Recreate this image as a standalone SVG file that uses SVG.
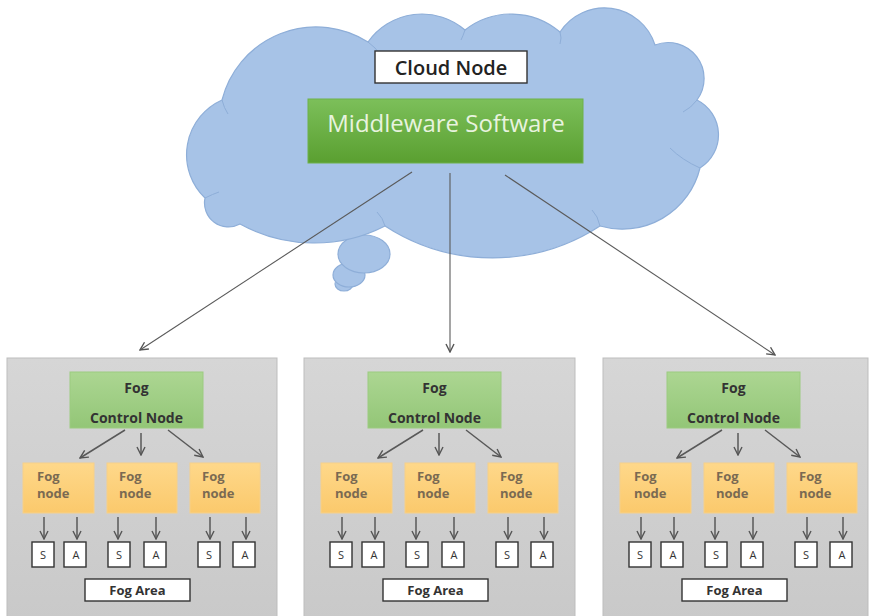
<svg xmlns="http://www.w3.org/2000/svg" width="870" height="616" viewBox="0 0 870 616">
<defs>
<linearGradient id="gPanel" x1="0" y1="0" x2="0" y2="1"><stop offset="0" stop-color="#d6d6d6"/><stop offset="1" stop-color="#c9c9c9"/></linearGradient>
<linearGradient id="gMid" x1="0" y1="0" x2="0" y2="1"><stop offset="0" stop-color="#7cbf5a"/><stop offset="1" stop-color="#5a9f30"/></linearGradient>
<linearGradient id="gCtl" x1="0" y1="0" x2="0" y2="1"><stop offset="0" stop-color="#acd692"/><stop offset="1" stop-color="#93c677"/></linearGradient>
<linearGradient id="gFog" x1="0" y1="0" x2="0" y2="1"><stop offset="0" stop-color="#fed88a"/><stop offset="1" stop-color="#fbc96c"/></linearGradient>
<marker id="ah" viewBox="0 0 10 10" refX="9" refY="5" markerWidth="10" markerHeight="10" markerUnits="userSpaceOnUse" orient="auto">
<path d="M1,1 L9,5 L1,9" fill="none" stroke="#555" stroke-width="1.4"/>
</marker>
</defs>
<style>
.panel{fill:url(#gPanel);stroke:#bdbdbd;stroke-width:1}
.ctl{fill:url(#gCtl);stroke:#9ccb80;stroke-width:1}
.fog{fill:url(#gFog);stroke:#f6d08a;stroke-width:1}
.box{fill:#fff;stroke:#333;stroke-width:1.4}
.con{stroke:#595959;stroke-width:1.5;fill:none;marker-end:url(#ah)}
.top{stroke:#5a5a5a;stroke-width:1.1;fill:none;marker-end:url(#ah)}
.t{font-family:"Open Sans","Liberation Sans",sans-serif}
.ctlT{font-size:14px;font-weight:700;fill:#333;text-anchor:middle}
.fogT{font-size:13px;font-weight:700;fill:#7a6a52}
.saT{font-size:11px;fill:#333;text-anchor:middle}
.areaT{font-size:13px;font-weight:700;fill:#333;text-anchor:middle}
.cloud{fill:#a7c3e7;stroke:#8eaed8;stroke-width:1.2}
.crease{fill:none;stroke:#8eaed8;stroke-width:1}
</style>
<rect width="870" height="616" fill="#fff"/>

<g id="cloud">
<ellipse class="cloud" cx="344" cy="284" rx="9" ry="7"/>
<ellipse class="cloud" cx="349" cy="275" rx="16" ry="12"/>
<ellipse class="cloud" cx="364" cy="254" rx="26" ry="19"/>
<path class="cloud" d="M205,198 A60,60 0 0 1 222,100 A97,97 0 0 1 368,42 A66,66 0 0 1 465,30 A75,75 0 0 1 560,32 A53,53 0 0 1 655,45 A36,36 0 0 1 697,100 A39,39 0 0 1 700,168 A80,80 0 0 1 600,226 A197,197 0 0 1 385,226 A155,155 0 0 1 240,224 A24,24 0 0 1 205,198 Z"/>
<path class="crease" d="M222,100 q2,8 6,14"/>
<path class="crease" d="M368,42 q8,6 12,12"/>
<path class="crease" d="M465,30 q-2,6 -4,10"/>
<path class="crease" d="M560,32 q2,6 0,12"/>
<path class="crease" d="M697,100 q-6,8 -14,12"/>
<path class="crease" d="M700,168 q-18,-8 -30,-20"/>
<path class="crease" d="M600,226 q-2,-10 -8,-16"/>
<path class="crease" d="M385,226 q-2,-8 -8,-14"/>
<path class="crease" d="M205,198 q8,-4 14,-6"/>
</g>

<g id="cloud-node">
<rect class="box" x="375" y="51" width="152" height="32"/>
<text class="t" x="451" y="75" font-size="20" font-weight="600" fill="#222" text-anchor="middle">Cloud Node</text>
</g>
<g id="middleware">
<rect x="308" y="99" width="275" height="64" fill="url(#gMid)" stroke="#6fb14a" stroke-width="1"/>
<text class="t" x="446" y="132" font-size="24" fill="#e8f3df" text-anchor="middle">Middleware Software</text>
</g>

<g id="panel-1"><rect class="panel" x="7" y="358" width="270" height="262"/></g>
<g id="panel-2"><rect class="panel" x="304" y="358" width="271" height="262"/></g>
<g id="panel-3"><rect class="panel" x="603" y="358" width="265" height="262"/></g>

<g id="fog-area-1">
<g id="control-1"><rect class="ctl" x="70" y="372" width="133" height="56"/><text class="t ctlT" x="136.5" y="393">Fog</text><text class="t ctlT" x="136.5" y="423">Control Node</text></g>
<g id="fog-1a"><rect class="fog" x="23" y="463" width="71" height="50"/><text class="t fogT" x="37" y="481">Fog</text><text class="t fogT" x="37" y="498">node</text></g>
<g id="fog-1b"><rect class="fog" x="107" y="463" width="70" height="50"/><text class="t fogT" x="119" y="481">Fog</text><text class="t fogT" x="119" y="498">node</text></g>
<g id="fog-1c"><rect class="fog" x="190" y="463" width="70" height="50"/><text class="t fogT" x="202" y="481">Fog</text><text class="t fogT" x="202" y="498">node</text></g>
<g id="s-1a"><rect class="box" x="32" y="542" width="22" height="25"/><text class="t saT" x="43" y="559">S</text></g>
<g id="a-1a"><rect class="box" x="64" y="542" width="22" height="25"/><text class="t saT" x="76" y="559">A</text></g>
<g id="s-1b"><rect class="box" x="108" y="542" width="22" height="25"/><text class="t saT" x="119" y="559">S</text></g>
<g id="a-1b"><rect class="box" x="144" y="542" width="22" height="25"/><text class="t saT" x="156" y="559">A</text></g>
<g id="s-1c"><rect class="box" x="198" y="542" width="22" height="25"/><text class="t saT" x="209" y="559">S</text></g>
<g id="a-1c"><rect class="box" x="233" y="542" width="22" height="25"/><text class="t saT" x="245" y="559">A</text></g>
<g id="area-1"><rect class="box" x="85" y="579" width="105" height="22"/><text class="t areaT" x="137.5" y="595">Fog Area</text></g>
</g>

<g id="fog-area-2" transform="translate(298,0)">
<g id="control-2"><rect class="ctl" x="70" y="372" width="133" height="56"/><text class="t ctlT" x="136.5" y="393">Fog</text><text class="t ctlT" x="136.5" y="423">Control Node</text></g>
<g id="fog-2a"><rect class="fog" x="23" y="463" width="71" height="50"/><text class="t fogT" x="37" y="481">Fog</text><text class="t fogT" x="37" y="498">node</text></g>
<g id="fog-2b"><rect class="fog" x="107" y="463" width="70" height="50"/><text class="t fogT" x="119" y="481">Fog</text><text class="t fogT" x="119" y="498">node</text></g>
<g id="fog-2c"><rect class="fog" x="190" y="463" width="70" height="50"/><text class="t fogT" x="202" y="481">Fog</text><text class="t fogT" x="202" y="498">node</text></g>
<g id="s-2a"><rect class="box" x="32" y="542" width="22" height="25"/><text class="t saT" x="43" y="559">S</text></g>
<g id="a-2a"><rect class="box" x="64" y="542" width="22" height="25"/><text class="t saT" x="76" y="559">A</text></g>
<g id="s-2b"><rect class="box" x="108" y="542" width="22" height="25"/><text class="t saT" x="119" y="559">S</text></g>
<g id="a-2b"><rect class="box" x="144" y="542" width="22" height="25"/><text class="t saT" x="156" y="559">A</text></g>
<g id="s-2c"><rect class="box" x="198" y="542" width="22" height="25"/><text class="t saT" x="209" y="559">S</text></g>
<g id="a-2c"><rect class="box" x="233" y="542" width="22" height="25"/><text class="t saT" x="245" y="559">A</text></g>
<g id="area-2"><rect class="box" x="85" y="579" width="105" height="22"/><text class="t areaT" x="137.5" y="595">Fog Area</text></g>
</g>

<g id="fog-area-3" transform="translate(597,0)">
<g id="control-3"><rect class="ctl" x="70" y="372" width="133" height="56"/><text class="t ctlT" x="136.5" y="393">Fog</text><text class="t ctlT" x="136.5" y="423">Control Node</text></g>
<g id="fog-3a"><rect class="fog" x="23" y="463" width="71" height="50"/><text class="t fogT" x="37" y="481">Fog</text><text class="t fogT" x="37" y="498">node</text></g>
<g id="fog-3b"><rect class="fog" x="107" y="463" width="70" height="50"/><text class="t fogT" x="119" y="481">Fog</text><text class="t fogT" x="119" y="498">node</text></g>
<g id="fog-3c"><rect class="fog" x="190" y="463" width="70" height="50"/><text class="t fogT" x="202" y="481">Fog</text><text class="t fogT" x="202" y="498">node</text></g>
<g id="s-3a"><rect class="box" x="32" y="542" width="22" height="25"/><text class="t saT" x="43" y="559">S</text></g>
<g id="a-3a"><rect class="box" x="64" y="542" width="22" height="25"/><text class="t saT" x="76" y="559">A</text></g>
<g id="s-3b"><rect class="box" x="108" y="542" width="22" height="25"/><text class="t saT" x="119" y="559">S</text></g>
<g id="a-3b"><rect class="box" x="144" y="542" width="22" height="25"/><text class="t saT" x="156" y="559">A</text></g>
<g id="s-3c"><rect class="box" x="198" y="542" width="22" height="25"/><text class="t saT" x="209" y="559">S</text></g>
<g id="a-3c"><rect class="box" x="233" y="542" width="22" height="25"/><text class="t saT" x="245" y="559">A</text></g>
<g id="area-3"><rect class="box" x="85" y="579" width="105" height="22"/><text class="t areaT" x="137.5" y="595">Fog Area</text></g>
</g>

<g id="connectors">
<line class="top" x1="412" y1="172" x2="140" y2="350"/>
<line class="top" x1="450" y1="173" x2="450" y2="352"/>
<line class="top" x1="505" y1="175" x2="775" y2="355"/>
<g id="conn-1"><path class="con" d="M125,430 L80,458"/><path class="con" d="M141,433 L141,455"/><path class="con" d="M168,430 L203,457"/><path class="con" d="M44,517 L44,539"/><path class="con" d="M77,517 L77,539"/><path class="con" d="M118,517 L118,539"/><path class="con" d="M156,517 L156,539"/><path class="con" d="M210,517 L210,539"/><path class="con" d="M246,517 L246,539"/></g>
<g id="conn-2" transform="translate(298,0)"><path class="con" d="M125,430 L80,458"/><path class="con" d="M141,433 L141,455"/><path class="con" d="M168,430 L203,457"/><path class="con" d="M44,517 L44,539"/><path class="con" d="M77,517 L77,539"/><path class="con" d="M118,517 L118,539"/><path class="con" d="M156,517 L156,539"/><path class="con" d="M210,517 L210,539"/><path class="con" d="M246,517 L246,539"/></g>
<g id="conn-3" transform="translate(597,0)"><path class="con" d="M125,430 L80,458"/><path class="con" d="M141,433 L141,455"/><path class="con" d="M168,430 L203,457"/><path class="con" d="M44,517 L44,539"/><path class="con" d="M77,517 L77,539"/><path class="con" d="M118,517 L118,539"/><path class="con" d="M156,517 L156,539"/><path class="con" d="M210,517 L210,539"/><path class="con" d="M246,517 L246,539"/></g>
</g>
</svg>
